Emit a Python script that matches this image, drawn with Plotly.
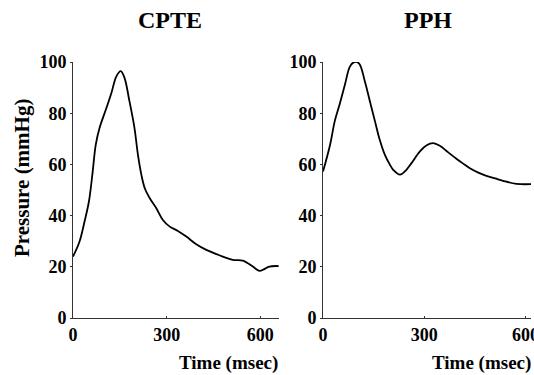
import plotly.graph_objects as go

# CPTE pressure waveform (time msec, pressure mmHg)
cpte_time = [0, 21, 37, 51, 62, 73, 85, 107, 123, 139, 153, 165, 181, 197, 208, 219,
             230, 246, 267, 288, 310, 336, 363, 395, 427, 469, 512, 544, 576, 597,
             613, 629, 659]
cpte_pressure = [24.0, 29.9, 37.7, 45.5, 56.0, 67.7, 74.2, 82.0, 87.9, 94.4, 96.4, 93.8,
                 84.6, 74.2, 63.8, 56.0, 50.7, 46.8, 42.9, 38.3, 35.7, 34.0, 31.8, 28.8,
                 26.6, 24.5, 22.7, 22.4, 20.1, 18.4, 19.1, 20.1, 20.3]

# PPH pressure waveform
pph_time = [0, 21, 35, 50, 65, 80, 93, 107, 124, 139, 154, 168, 183, 198, 208, 228,
            247, 262, 287, 306, 326, 346, 370, 395, 415, 435, 460, 484, 510, 533, 573, 622]
pph_pressure = [57.2, 67.7, 77.0, 83.8, 91.2, 98.3, 100.0, 99.4, 92.4, 84.6, 76.8, 69.6,
                63.8, 59.9, 57.9, 56.0, 57.9, 60.5, 65.1, 67.4, 68.3, 67.3, 64.8, 62.2,
                60.3, 58.5, 56.8, 55.5, 54.5, 53.6, 52.4, 52.3]

y_ticks = [0, 20, 40, 60, 80, 100]
x_ticks = [0, 300, 600]
panel_titles = ["CPTE", "PPH"]
y_title = "Pressure (mmHg)"
x_title = "Time (msec)"

W, H = 534, 375
FONT = "Liberation Serif, Times New Roman, serif"

fig = go.Figure()
fig.add_trace(go.Scatter(x=cpte_time, y=cpte_pressure, mode="lines", line_shape="spline",
                         line=dict(color="black", width=1.8), xaxis="x", yaxis="y",
                         showlegend=False, hoverinfo="skip"))
fig.add_trace(go.Scatter(x=pph_time, y=pph_pressure, mode="lines", line_shape="spline",
                         line=dict(color="black", width=1.8), xaxis="x2", yaxis="y2",
                         showlegend=False, hoverinfo="skip"))

tickfont = dict(family=FONT, size=18, color="black", weight="bold")
ydom = [1 - 318 / H, 1 - 62 / H]
common_y = dict(range=[0, 100], tickvals=y_ticks, showline=True, linecolor="#333",
                linewidth=1, ticks="outside", ticklen=2, tickcolor="#333",
                showgrid=False, zeroline=False, tickfont=tickfont, domain=ydom,
                automargin=False, fixedrange=True)
common_x = dict(tickvals=x_ticks, showline=True, linecolor="#333", linewidth=1,
                ticks="inside", ticklen=2, tickcolor="#333", showgrid=False,
                zeroline=False, tickfont=tickfont, automargin=False, fixedrange=True,
                ticklabeloverflow="allow")

fig.update_layout(
    width=W, height=H, autosize=False,
    margin=dict(l=0, r=0, t=0, b=0, pad=0, autoexpand=False),
    paper_bgcolor="white", plot_bgcolor="white",
    xaxis=dict(common_x, range=[0, 660], domain=[73 / W, 279 / W], anchor="y"),
    yaxis=dict(common_y, anchor="x"),
    xaxis2=dict(common_x, range=[0, 616], domain=[323 / W, 531 / W], anchor="y2"),
    yaxis2=dict(common_y, anchor="x2"),
)

def ann_font(s):
    return dict(family=FONT, size=s, color="black", weight="bold")

def add_text(px, py, text, size, angle=0):
    fig.add_annotation(x=px / W, y=1 - py / H, xref="paper", yref="paper", text=text,
                       xanchor="center", yanchor="middle", textangle=angle,
                       showarrow=False, font=ann_font(size))

add_text(170, 20, panel_titles[0], 24)
add_text(428, 20, panel_titles[1], 24)
add_text(22, 178, y_title, 21, -90)
add_text(228, 363, x_title, 19)
add_text(481, 363, x_title, 19)

fig.write_html("out.html", config={"displayModeBar": False, "staticPlot": True},
               post_script="document.body.style.margin='0';document.body.style.overflow='hidden';")
